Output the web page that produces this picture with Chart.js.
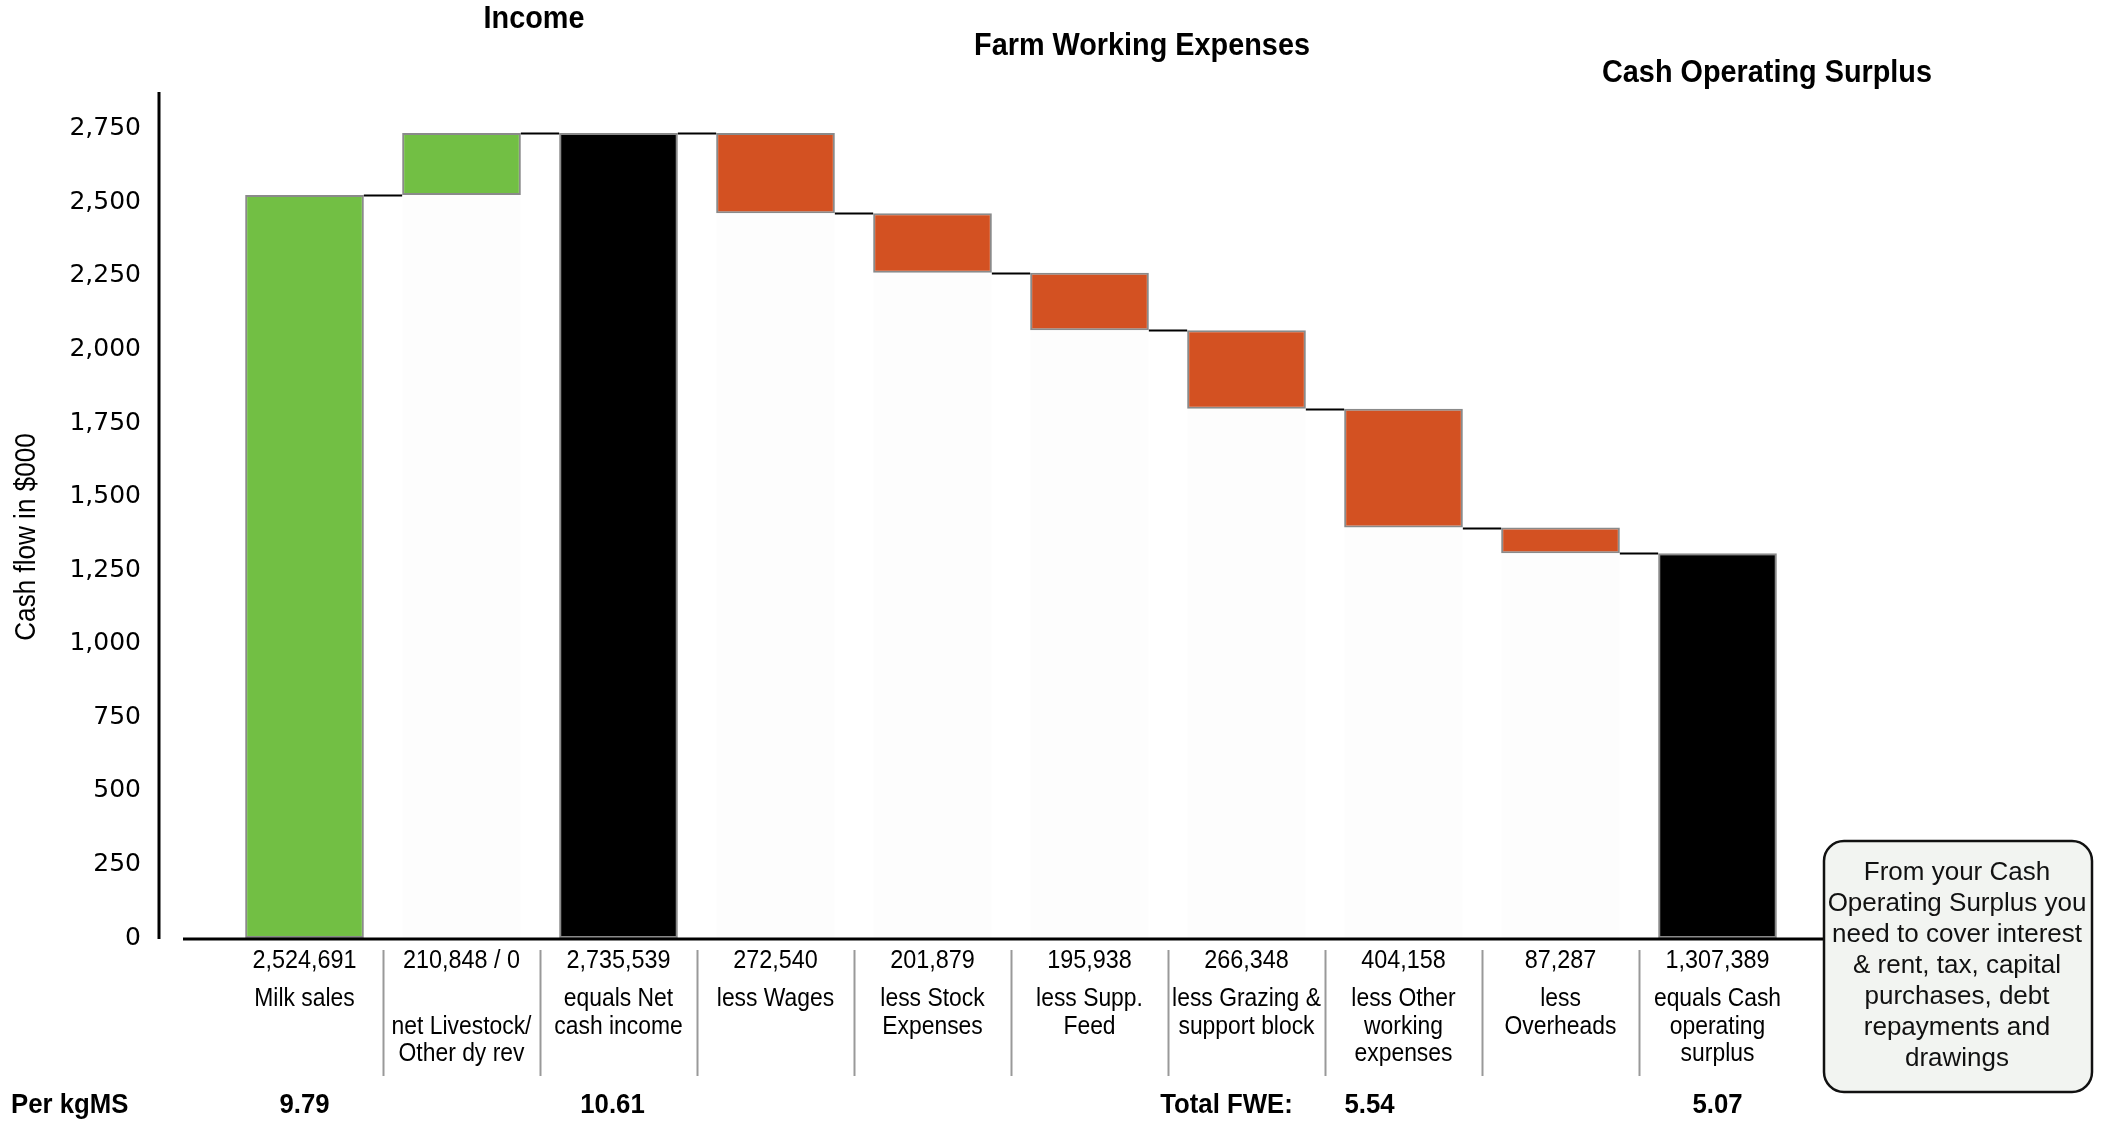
<!DOCTYPE html>
<html>
<head>
<meta charset="utf-8">
<script src="https://cdn.jsdelivr.net/npm/chart.js@4.4.1/dist/chart.umd.min.js"></script>
<style>
html, body { margin: 0; padding: 0; background: #fff; }
#wrap { width: 2114px; height: 1121px; position: relative; }
</style>
</head>
<body>
<div id="wrap"><canvas id="chart" width="2114" height="1121"></canvas></div>
<script>
// values in $000
const categories = [
    ['Milk sales'],
    ['', 'net Livestock/', 'Other dy rev'],
    ['equals Net', 'cash income'],
    ['less Wages'],
    ['less Stock', 'Expenses'],
    ['less Supp.', 'Feed'],
    ['less Grazing &', 'support block'],
    ['less Other', 'working', 'expenses'],
    ['less', 'Overheads'],
    ['equals Cash', 'operating', 'surplus']
];
const amountText = ['2,524,691', '210,848 / 0', '2,735,539', '272,540', '201,879', '195,938', '266,348', '404,158', '87,287', '1,307,389'];
const amounts = [2524.691, 210.848, 2735.539, 272.540, 201.879, 195.938, 266.348, 404.158, 87.287, 1307.389];
const kinds = ['income', 'income', 'total', 'expense', 'expense', 'expense', 'expense', 'expense', 'expense', 'total'];
const perKgMS = ['9.79', '', '10.61', '', '', '', '', '5.54', '', '5.07'];
const sectionTitles = ['Income', 'Farm Working Expenses', 'Cash Operating Surplus'];
const noteLines = ['From your Cash', 'Operating Surplus you', 'need to cover interest', '& rent, tax, capital', 'purchases, debt', 'repayments and', 'drawings'];

const colours = { income: '#72bf44', expense: '#d35122', total: '#000000' };
const SANS = '"Liberation Sans", Arial, sans-serif';

// build floating bars from the running total
var running = 0;
const bars = [], bases = [], levels = [];
amounts.forEach(function (a, i) {
    if (kinds[i] == 'income') {
        bars.push([running, running + a]);
        bases.push(running > 0 ? [0, running] : null);
        running += a;
    } else if (kinds[i] == 'expense') {
        bars.push([running - a, running]);
        bases.push([0, running - a]);
        running -= a;
    } else {
        bars.push([0, a]);
        bases.push(null);
        running = a;
    }
    levels.push(running);
});

// condensed text helper
function squeezed(c, t, x, y, sx) {
    c.save();
    c.translate(x, y);
    c.scale(sx, 1);
    c.fillText(t, 0, 0);
    c.restore();
}

const extras = {
    id: 'extras',
    afterDatasetsDraw(chart) {
        const c = chart.ctx, y = chart.scales.y;
        const meta = chart.getDatasetMeta(1).data;
        c.save();
        // connectors between bars
        c.strokeStyle = '#000';
        c.lineWidth = 2;
        for (let i = 0; i < meta.length - 1; i++) {
            const py = Math.round(y.getPixelForValue(levels[i])) + 0.5;
            c.beginPath();
            c.moveTo(meta[i].x + meta[i].width / 2, py);
            c.lineTo(meta[i + 1].x - meta[i + 1].width / 2, py);
            c.stroke();
        }
        c.restore();
    },
    afterDraw(chart) {
        const c = chart.ctx, x = chart.scales.x, area = chart.chartArea;
        const boxL = 1824, boxT = 841, boxR = 2092, boxB = 1092;
        c.save();
        // y axis line
        c.strokeStyle = '#000';
        c.lineWidth = 3;
        c.beginPath();
        c.moveTo(area.left - 67, area.top);
        c.lineTo(area.left - 67, area.bottom + 1);
        c.stroke();
        // zero line out to the note box
        c.beginPath();
        c.moveTo(area.left - 43, area.bottom + 1);
        c.lineTo(boxL, area.bottom + 1);
        c.stroke();

        // y axis title
        c.fillStyle = '#000';
        c.textAlign = 'center';
        c.textBaseline = 'middle';
        c.save();
        c.translate(27, 537);
        c.rotate(-Math.PI / 2);
        c.font = '29px ' + SANS;
        squeezed(c, 'Cash flow in $000', 0, 0, 0.9);
        c.restore();

        // table under the bars
        const step = x.getPixelForValue(1) - x.getPixelForValue(0);
        c.strokeStyle = '#999';
        c.lineWidth = 2;
        for (let i = 1; i < categories.length; i++) {
            const px = Math.round(x.getPixelForValue(i) - step / 2) + 0.5;
            c.beginPath();
            c.moveTo(px, 950);
            c.lineTo(px, 1076);
            c.stroke();
        }
        c.font = '26px ' + SANS;
        categories.forEach(function (lines, i) {
            const px = x.getPixelForValue(i);
            squeezed(c, amountText[i], px, 961, 0.9);
            lines.forEach(function (t, k) {
                squeezed(c, t, px, 999 + k * 27.6, 0.88);
            });
        });

        // per kgMS row
        c.font = 'bold 28px ' + SANS;
        c.textAlign = 'left';
        squeezed(c, 'Per kgMS', 11, 1105, 0.92);
        c.textAlign = 'center';
        perKgMS.forEach(function (t, i) {
            if (!t) return;
            var off = i == 7 ? -34 : (i == 2 ? -6 : 0);
            squeezed(c, t, x.getPixelForValue(i) + off, 1105, 0.92);
        });
        squeezed(c, 'Total FWE:', x.getPixelForValue(6) - 20, 1105, 0.92);

        // section titles
        c.font = 'bold 31px ' + SANS;
        squeezed(c, sectionTitles[0], 534, 19, 0.93);
        squeezed(c, sectionTitles[1], 1142, 46, 0.93);
        squeezed(c, sectionTitles[2], 1767, 73, 0.93);

        // note box
        const r = 20;
        c.beginPath();
        c.moveTo(boxL + r, boxT);
        c.arcTo(boxR, boxT, boxR, boxB, r);
        c.arcTo(boxR, boxB, boxL, boxB, r);
        c.arcTo(boxL, boxB, boxL, boxT, r);
        c.arcTo(boxL, boxT, boxR, boxT, r);
        c.closePath();
        c.fillStyle = '#f2f4f1';
        c.fill();
        c.strokeStyle = '#111';
        c.lineWidth = 2.5;
        c.stroke();
        c.fillStyle = '#111';
        c.font = '26px ' + SANS;
        noteLines.forEach(function (t, k) {
            c.fillText(t, 1957, 873 + k * 31);
        });
        c.restore();
    }
};

const ctx = document.getElementById('chart').getContext('2d');
const chart = new Chart(ctx, {
    type: 'bar',
    data: {
        labels: categories,
        datasets: [{
            label: 'base',
            data: bases,
            backgroundColor: 'rgba(0,0,0,0.008)',
            borderWidth: 0,
            barPercentage: 0.756,
            categoryPercentage: 1
        },
        {
            label: 'Cash flow',
            data: bars,
            backgroundColor: kinds.map(k => colours[k]),
            borderColor: '#8a8a8a',
            borderWidth: 2,
            borderSkipped: false,
            barPercentage: 0.756,
            categoryPercentage: 1
        }]
    },
    options: {
        responsive: false,
        animation: false,
        layout: { padding: { left: 0, right: 318, top: 92, bottom: 183 } },
        plugins: { legend: { display: false }, tooltip: { enabled: false } },
        scales: {
            x: {
                stacked: true,
                display: false
            },
            y: {
                stacked: false,
                min: 0,
                max: 2875,
                border: { display: false },
                grid: { display: false, drawTicks: false },
                ticks: {
                    stepSize: 250,
                    includeBounds: false,
                    padding: 85,
                    color: '#000',
                    font: { family: '"DejaVu Sans"', size: 25 },
                    callback: v => v.toLocaleString('en-US')
                },
                afterFit: function (s) {
                    s.width = 226;
                    // tick padding is only horizontal here
                    s.paddingTop = 10;
                    s.paddingBottom = 10;
                }
            }
        }
    },
    plugins: [extras]
});
</script>
</body>
</html>
